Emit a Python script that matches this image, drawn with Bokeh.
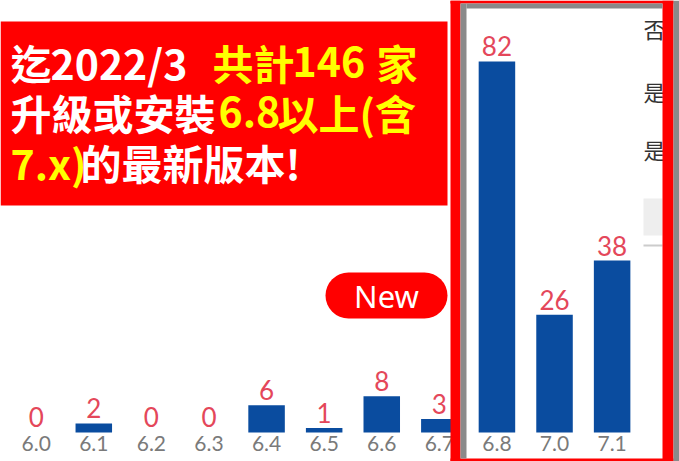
from bokeh.plotting import figure
from bokeh.models import ColumnDataSource, Range1d, BoxAnnotation, Label
from bokeh.core.properties import value
from bokeh.embed import file_html
from bokeh.resources import INLINE

# ---- data ----
versions = ["6.0", "6.1", "6.2", "6.3", "6.4", "6.5", "6.6", "6.7", "6.8", "7.0", "7.1"]
counts = [0, 2, 0, 0, 6, 1, 8, 3, 82, 26, 38]

# headline pieces: (text, colour)
title_line1 = [("迄", "white"), ("2022/3", "white"), ("共計", "yellow"), ("146", "yellow"), ("家", "yellow")]
title_line2 = [("升級或安裝", "white"), ("6.8", "yellow"), ("以上(含", "yellow")]
title_line3 = [("7.x)", "yellow"), ("的最新版本!", "white")]
badge_text = "New"
side_texts = ["否", "是", "是"]

W, H = 679, 461

src = ColumnDataSource(dict(
    x=list(range(len(versions))),
    top=counts,
    label=[str(c) for c in counts],
    ver=versions,
))

p = figure(width=W, height=H, output_backend="svg", toolbar_location=None,
           x_axis_type=None, y_axis_type=None, min_border=0,
           x_range=Range1d(-0.62, 11.17), y_range=Range1d(-6.41, 95.48))
p.grid.visible = False
p.outline_line_color = None
p.background_fill_color = "white"
p.border_fill_color = "white"

p.vbar(x="x", top="top", bottom=0, width=0.634, source=src,
       fill_color="#0a4c9f", line_color=None)
p.text(x="x", y="top", text="label", source=src, text_align="center",
       text_baseline="bottom", y_offset=-5, text_font=value("Lato"),
       text_font_size="26px", text_color="#e4475a")
p.text(x="x", y=0, text="ver", source=src, text_align="center",
       text_baseline="top", y_offset=4, text_font=value("Lato"),
       text_font_size="21px", text_color="#7a7a7a")


def box(x1, y1, x2, y2, color, radius=0):
    p.add_layout(BoxAnnotation(
        left=x1, right=x2, top=H - y1, bottom=H - y2,
        left_units="screen", right_units="screen",
        top_units="screen", bottom_units="screen",
        fill_color=color, fill_alpha=1.0, line_color=None,
        border_radius=radius))


def label(x, yc, text, color, size, font="Noto Sans CJK TC", style="bold", align="left"):
    p.add_layout(Label(
        x=x, y=H - yc, x_units="screen", y_units="screen", text=text,
        text_color=color, text_font_size=f"{size}px", text_font=font,
        text_font_style=style, text_baseline="middle", text_align=align))


# side panel (partially hidden) content
for t, yc in zip(side_texts, [27, 90, 148]):
    label(643, yc, t, "#333333", 22, style="normal")
box(643, 198, 662, 235, "#eeeeee")
box(643, 244, 662, 246, "#cccccc")

# red frame around the 6.8+ bars
box(450, 0, 460, 461, "#ff0000")
box(662, 0, 673, 461, "#ff0000")
box(450, 0, 673, 3, "#ff0000")
box(450, 458, 673, 461, "#ff0000")
box(460, 3, 466, 458, "#8a8a8a")
box(466, 3, 662, 8, "#8a8a8a")
box(673, 0, 679, 461, "#8a8a8a")

# red headline box
box(0, 21, 447, 205, "#ff0000")
col = {"white": "#ffffff", "yellow": "#ffff00"}
for pieces, xs, yc in [
    (title_line1, [10, 50, 212, 292, 376], 61),
    (title_line2, [10, 218, 277], 111),
    (title_line3, [10, 80], 161),
]:
    for (t, c), x in zip(pieces, xs):
        label(x, yc, t, col[c], 41)

# "New" badge
box(325, 272, 447, 318, "#ff0000", radius=23)
label(386, 295, badge_text, "#ffffff", 31, font="Noto Sans", style="normal", align="center")

open("out.html", "w").write(file_html(p, INLINE))
